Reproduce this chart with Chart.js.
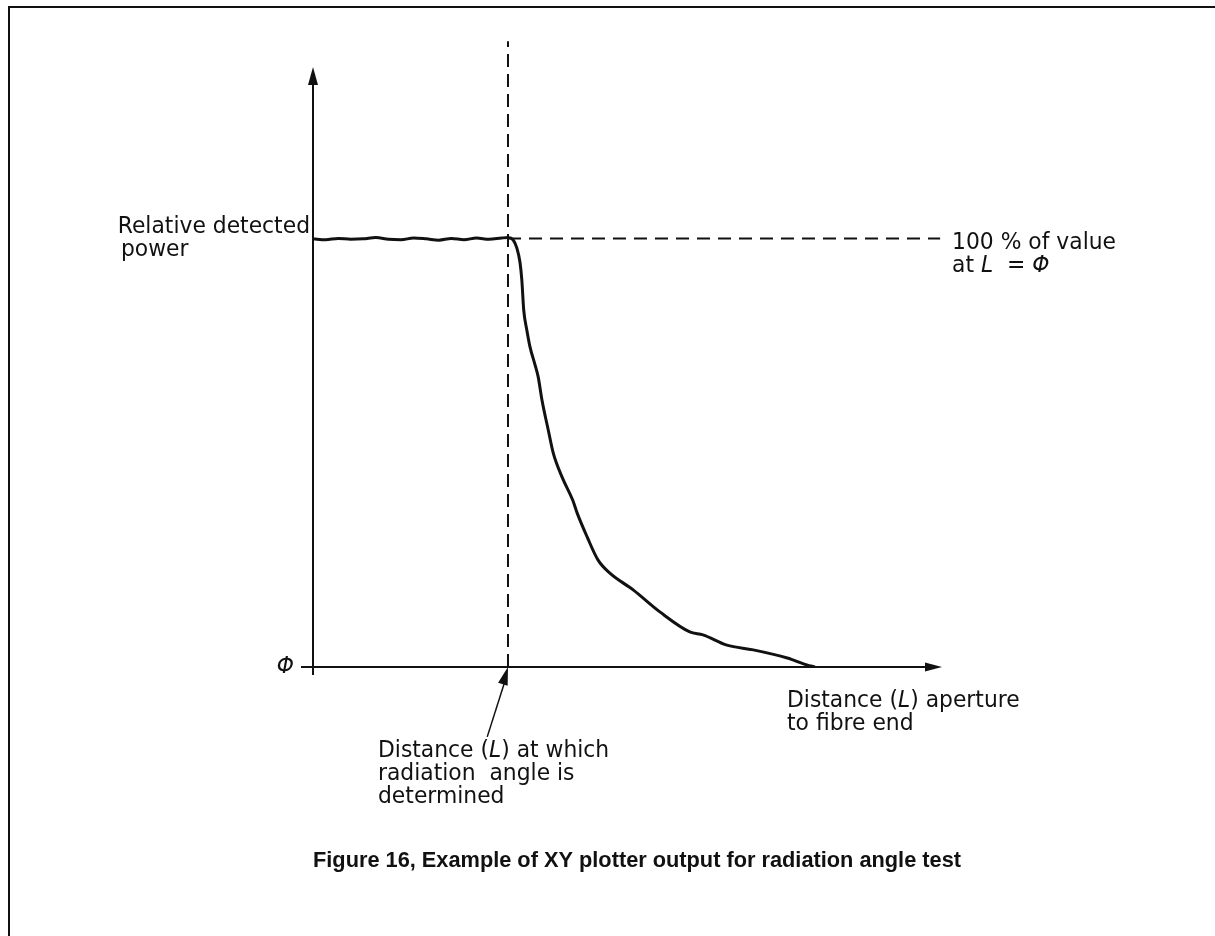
<!DOCTYPE html>
<html>
<head>
<meta charset="utf-8">
<script src="https://cdn.jsdelivr.net/npm/chart.js@4"></script>
<style>
  html, body { margin: 0; padding: 0; background: #fff; }
  canvas { display: block; }
</style>
</head>
<body>
<canvas id="plotterChart" width="1215" height="936"></canvas>
<script>
// distance L (arbitrary units along the x axis) and relative detected power (% of value at L = 0)
const distance = [
  0, 2, 4, 6, 8, 10, 12, 14, 16, 18, 20, 22, 24, 26, 28, 30, 31, 31.8,
  32.4, 32.9, 33.2, 33.5, 34.0, 34.5, 35.3, 35.8, 36.4, 37.4, 38.2, 39.6,
  41.3, 42.0, 43.6, 45.3, 47.2, 50.9, 55.2, 59.9, 62.0, 65.8, 70.0, 75.4,
  78.5, 79.8
]
const power = [
  99.9, 99.7, 100.0, 99.8, 99.9, 100.2, 99.8, 99.7, 100.1, 99.9, 99.6, 100.0, 99.7, 100.1, 99.8, 100.1, 100.2, 99.7,
  97.8, 94.5, 90.3, 83.3, 78.6, 74.7, 70.5, 67.7, 62.3, 55.3, 49.9, 44.3,
  38.9, 35.9, 30.3, 25.0, 21.9, 18.0, 12.8, 8.2, 7.5, 5.1, 4.0, 2.1,
  0.5, 0
]

// dashed guide lines: distance where the angle is read, and the 100 % level
const markerDistance = 31
const fullPower = 100
const markerTop = 146
const levelEnd = 99.7

// axis ranges
const xMax = 100
const yMax = 140

const curvePoints = distance.map((d, i) => ({ x: d, y: power[i] }))

const ink = '#111'
const textFont = '"DejaVu Sans"'
const squeeze = 0.95

// draws a line of text made of [text, italic] parts, squeezed a bit horizontally
function putText (ctx, parts, x, y, align) {
  ctx.save()
  let width = 0
  parts.forEach(p => {
    ctx.font = (p[1] ? 'italic ' : '') + '23px ' + textFont
    width += ctx.measureText(p[0]).width
  })
  const left = align === 'right' ? x - width * squeeze : x
  ctx.translate(left, y)
  ctx.scale(squeeze, 1)
  ctx.fillStyle = ink
  ctx.textBaseline = 'alphabetic'
  let cx = 0
  parts.forEach(p => {
    ctx.font = (p[1] ? 'italic ' : '') + '23px ' + textFont
    ctx.fillText(p[0], cx, 0)
    cx += ctx.measureText(p[0]).width
  })
  ctx.restore()
}

function arrowHead (ctx, tipX, tipY, fromX, fromY, len, half) {
  const ang = Math.atan2(tipY - fromY, tipX - fromX)
  const bx = tipX - Math.cos(ang) * len
  const by = tipY - Math.sin(ang) * len
  ctx.beginPath()
  ctx.moveTo(tipX, tipY)
  ctx.lineTo(bx + Math.sin(ang) * half, by - Math.cos(ang) * half)
  ctx.lineTo(bx - Math.sin(ang) * half, by + Math.cos(ang) * half)
  ctx.closePath()
  ctx.fill()
}

const figurePlugin = {
  id: 'figure',
  beforeDatasetsDraw (chart) {
    const ctx = chart.ctx
    const xs = chart.scales.x
    const ys = chart.scales.y
    const x0 = xs.getPixelForValue(0)
    const y0 = ys.getPixelForValue(0)
    const xEnd = xs.getPixelForValue(xMax)
    const yEnd = ys.getPixelForValue(yMax)

    ctx.save()
    ctx.strokeStyle = ink
    ctx.fillStyle = ink
    ctx.lineWidth = 2

    // frame of the figure (top and left edges only)
    ctx.beginPath()
    ctx.moveTo(1215, 7)
    ctx.lineTo(9, 7)
    ctx.lineTo(9, 936)
    ctx.stroke()

    // y axis with arrow
    ctx.beginPath()
    ctx.moveTo(x0, y0 + 8)
    ctx.lineTo(x0, yEnd + 14)
    ctx.stroke()
    arrowHead(ctx, x0, yEnd, x0, y0, 18, 5)

    // x axis with arrow
    ctx.beginPath()
    ctx.moveTo(x0 - 12, y0)
    ctx.lineTo(xEnd - 14, y0)
    ctx.stroke()
    arrowHead(ctx, xEnd, y0, x0, y0, 17, 4.5)

    // pointer to the marker distance
    const tipX = xs.getPixelForValue(markerDistance)
    const tailX = xs.getPixelForValue(27.7)
    const tailY = ys.getPixelForValue(-16.3)
    ctx.lineWidth = 1.5
    ctx.beginPath()
    ctx.moveTo(tailX, tailY)
    ctx.lineTo(tipX - 3, y0 + 14)
    ctx.stroke()
    arrowHead(ctx, tipX, y0, tailX, tailY, 18, 5)
    ctx.restore()
  },
  afterDraw (chart) {
    const ctx = chart.ctx
    putText(ctx, [['Relative detected', false]], 310, 233, 'right')
    putText(ctx, [['power', false]], 121, 256)
    putText(ctx, [['100 % of value', false]], 952, 249)
    putText(ctx, [['at ', false], ['L', true], ['  = ', false], ['Φ', true]], 952, 272)
    putText(ctx, [['Φ', true]], 294, 673, 'right')
    putText(ctx, [['Distance (', false], ['L', true], [') aperture', false]], 787, 707)
    putText(ctx, [['to fibre end', false]], 787, 730)
    putText(ctx, [['Distance (', false], ['L', true], [') at which', false]], 378, 757)
    putText(ctx, [['radiation  angle is', false]], 378, 780)
    putText(ctx, [['determined', false]], 378, 803)

    ctx.save()
    ctx.fillStyle = ink
    ctx.font = 'bold 22px "Liberation Sans"'
    ctx.fillText('Figure 16, Example of XY plotter output for radiation angle test', 313, 867, 648)
    ctx.restore()
  }
}

const ctx = document.getElementById('plotterChart').getContext('2d')

new Chart(ctx, {
  type: 'line',
  data: {
    datasets: [
      {
        label: 'Relative detected power',
        data: curvePoints,
        borderColor: ink,
        borderWidth: 3,
        pointRadius: 0,
        cubicInterpolationMode: 'monotone'
      },
      {
        label: 'Marker distance',
        data: [{ x: markerDistance, y: 0 }, { x: markerDistance, y: markerTop }],
        borderColor: ink,
        borderWidth: 2,
        borderDash: [13, 7],
        pointRadius: 0,
        clip: false
      },
      {
        label: '100 % level',
        data: [{ x: markerDistance, y: fullPower }, { x: levelEnd, y: fullPower }],
        borderColor: ink,
        borderWidth: 2,
        borderDash: [13, 8],
        pointRadius: 0,
        clip: false
      }
    ]
  },
  options: {
    responsive: false,
    animation: false,
    devicePixelRatio: 1,
    layout: {
      padding: { left: 313, right: 273, top: 67, bottom: 269 }
    },
    plugins: {
      legend: { display: false },
      title: { display: false },
      tooltip: { enabled: false }
    },
    scales: {
      x: { type: 'linear', min: 0, max: xMax, display: false },
      y: { type: 'linear', min: 0, max: yMax, display: false }
    }
  },
  plugins: [figurePlugin]
})
</script>
</body>
</html>
